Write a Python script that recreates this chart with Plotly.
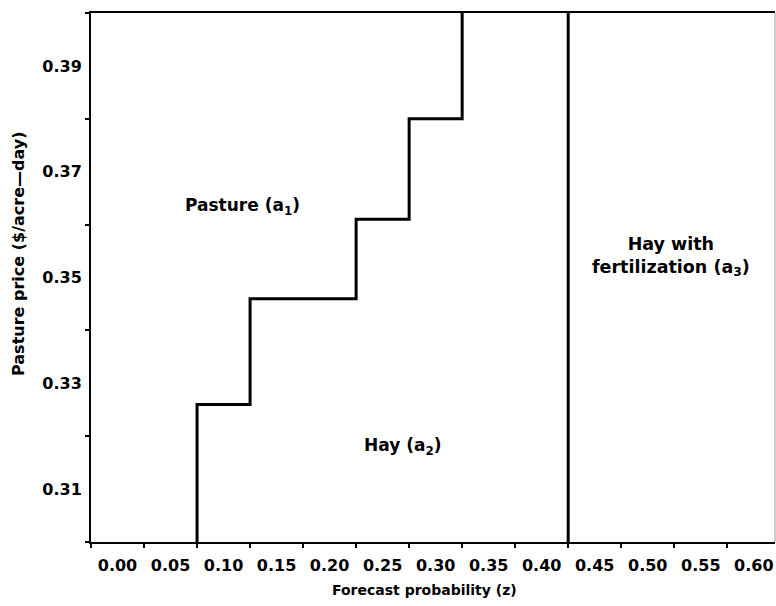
import plotly.graph_objects as go

# Data
step_z = [0.075, 0.125, 0.225, 0.275, 0.325]            # a1/a2 boundary corners (z)
step_price = [0.300, 0.326, 0.346, 0.361, 0.380, 0.400]  # a1/a2 boundary levels
fert_z = 0.425                                           # a2/a3 boundary
price_range = [0.30, 0.40]
z_range = [-0.025, 0.62]

x_tick_labels = ["0.00", "0.05", "0.10", "0.15", "0.20", "0.25", "0.30",
                 "0.35", "0.40", "0.45", "0.50", "0.55", "0.60"]
x_tick_vals = [0.00, 0.05, 0.10, 0.15, 0.20, 0.25, 0.30, 0.35, 0.40, 0.45, 0.50, 0.55, 0.60]
x_minor_vals = [-0.025, 0.025, 0.075, 0.125, 0.175, 0.225, 0.275, 0.325,
                0.375, 0.425, 0.475, 0.525, 0.575]
y_tick_labels = ["0.31", "0.33", "0.35", "0.37", "0.39"]
y_tick_vals = [0.31, 0.33, 0.35, 0.37, 0.39]
y_minor_vals = [0.30, 0.32, 0.34, 0.36, 0.38, 0.40]

# Build the staircase boundary from the arrays
px, py = [], []
for i, z in enumerate(step_z):
    px += [z, z]
    py += [step_price[i], step_price[i + 1]]
    if i + 1 < len(step_z):
        px.append(step_z[i + 1])
        py.append(step_price[i + 1])

FONT = "DejaVu Sans"

fig = go.Figure()
fig.add_trace(go.Scatter(x=px, y=py, mode="lines",
                         line=dict(color="black", width=3), hoverinfo="skip"))
fig.add_trace(go.Scatter(x=[fert_z, fert_z], y=price_range, mode="lines",
                         line=dict(color="black", width=3), hoverinfo="skip"))

fig.update_layout(
    width=776, height=606,
    margin=dict(l=91, r=1, t=13, b=64),
    paper_bgcolor="white", plot_bgcolor="white",
    showlegend=False,
    font=dict(family=FONT, color="black"),
    xaxis=dict(
        range=z_range, showgrid=False, zeroline=False,
        showline=True, linecolor="black", linewidth=2, mirror=True,
        tickmode="array", tickvals=x_tick_vals, ticktext=x_tick_labels,
        ticks="", ticklabelstandoff=8,
        tickfont=dict(family=FONT, size=16, color="black", weight="bold"),
        minor=dict(tickmode="array", tickvals=x_minor_vals, ticks="outside",
                   ticklen=4, tickwidth=2, tickcolor="black", showgrid=False),
    ),
    yaxis=dict(
        range=price_range, showgrid=False, zeroline=False,
        showline=True, linecolor="black", linewidth=2,
        tickmode="array", tickvals=y_tick_vals, ticktext=y_tick_labels,
        ticks="", ticklabelstandoff=4,
        tickfont=dict(family=FONT, size=16, color="black", weight="bold"),
        minor=dict(tickmode="array", tickvals=y_minor_vals, ticks="outside",
                   ticklen=4, tickwidth=2, tickcolor="black", showgrid=False),
    ),
)

# right frame (faint)
fig.add_shape(type="line", xref="paper", yref="paper", x0=1, x1=1, y0=0, y1=1,
              line=dict(color="#999999", width=1))

ann_font = dict(family=FONT, size=17, color="black", weight="bold")
fig.add_annotation(x=0.118, y=0.3635, xref="x", yref="y", text="Pasture (a<sub>1</sub>)",
                   showarrow=False, font=ann_font)
fig.add_annotation(x=0.269, y=0.318, xref="x", yref="y", text="Hay (a<sub>2</sub>)",
                   showarrow=False, font=ann_font)
fig.add_annotation(x=0.522, y=0.354, xref="x", yref="y",
                   text="Hay with<br>fertilization (a<sub>3</sub>)",
                   showarrow=False, font=dict(family=FONT, size=17.5, color="black", weight="bold"))

fig.add_annotation(x=0.488, y=-0.09, xref="paper", yref="paper",
                   text="Forecast probability (z)", showarrow=False,
                   xanchor="center", yanchor="middle",
                   font=dict(family=FONT, size=14, color="black", weight="bold"))
fig.add_annotation(x=-0.107, y=0.546, xref="paper", yref="paper",
                   text="Pasture price ($/acre\u2014day)", showarrow=False,
                   textangle=-90, xanchor="center", yanchor="middle",
                   font=dict(family=FONT, size=16, color="black", weight="bold"))

fig.write_html(
    "out.html",
    config={"displayModeBar": False},
    post_script="document.documentElement.style.margin='0';"
                "document.body.style.margin='0';"
                "document.body.style.overflow='hidden';",
)
